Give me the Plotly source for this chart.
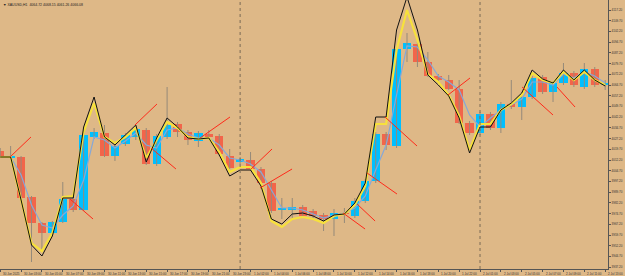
import plotly.graph_objects as go

# ---------------- data ----------------
opens = [4018.5, 4014.0, 4014.3, 3986.3, 3968.1, 3961.1, 3968.8, 3984.9, 3977.2, 4028.3,
         4031.1, 4015.0, 4023.4, 4028.3, 4033.2, 4009.4, 4028.3, 4037.4, 4031.8, 4025.5,
         4030.4, 4029.0, 4015.0, 4010.8, 4012.2, 4005.9, 3996.1, 3977.2, 3977.2, 3979.3,
         3976.5, 3973.7, 3970.9, 3975.1, 3973.0, 3983.5, 3997.5, 4030.4, 4022.0, 4089.9,
         4093.4, 4080.8, 4071.0, 4068.2, 4061.9, 4038.1, 4031.1, 4044.4, 4034.6, 4051.4,
         4049.3, 4056.3, 4070.3, 4059.8, 4066.1, 4073.1, 4063.3, 4075.9, 4064.7]
highs = [4020.6, 4022.0, 4015.0, 3987.0, 3968.8, 3969.5, 3996.8, 3986.3, 4031.1, 4034.6,
         4036.7, 4024.1, 4031.1, 4036.0, 4034.6, 4030.4, 4063.3, 4038.8, 4033.2, 4032.5,
         4033.2, 4030.4, 4019.9, 4014.3, 4017.8, 4007.3, 3997.5, 3985.6, 3985.6, 3980.7,
         3977.9, 3975.1, 3977.9, 3978.6, 3985.6, 3998.9, 4031.8, 4031.8, 4091.3, 4101.1,
         4094.8, 4087.8, 4072.4, 4071.7, 4068.2, 4039.5, 4045.8, 4045.8, 4052.8, 4068.2,
         4057.7, 4071.0, 4071.7, 4067.5, 4080.1, 4074.5, 4080.1, 4077.3, 4068.2]
lows = [4013.6, 4013.6, 3984.9, 3940.8, 3949.2, 3959.7, 3968.1, 3975.8, 3976.5, 4026.9,
        4014.3, 4011.5, 4022.0, 4026.2, 4008.7, 4008.0, 4026.9, 4028.3, 4022.7, 4021.3,
        4026.9, 4015.0, 4005.9, 4009.4, 4004.5, 3994.7, 3975.1, 3970.9, 3970.9, 3971.6,
        3971.6, 3962.5, 3959.0, 3968.1, 3971.6, 3982.1, 3996.1, 4019.2, 4020.6, 4080.8,
        4077.3, 4070.3, 4066.8, 4061.2, 4037.4, 4029.7, 4029.7, 4033.2, 4031.1, 4047.9,
        4040.2, 4054.9, 4058.4, 4052.8, 4064.7, 4063.3, 4061.9, 4063.3, 4061.2]
closes = [4014.3, 4014.6, 3985.6, 3968.1, 3961.1, 3968.8, 3984.9, 3977.2, 4029.7, 4031.8,
          4015.0, 4022.0, 4029.7, 4033.9, 4009.4, 4029.0, 4036.7, 4031.8, 4026.2, 4031.1,
          4028.3, 4016.4, 4006.6, 4012.9, 4005.9, 3996.1, 3976.5, 3978.6, 3979.3, 3973.0,
          3973.0, 3970.9, 3975.1, 3974.4, 3983.5, 3997.5, 4030.4, 4022.7, 4089.9, 4094.1,
          4080.8, 4071.0, 4068.2, 4061.9, 4038.1, 4031.1, 4044.4, 4034.6, 4051.4, 4049.3,
          4056.3, 4069.6, 4059.8, 4066.1, 4073.1, 4064.7, 4075.9, 4064.7, 4066.1]

black_line = [4014.3, 4014.3, 3984.2, 3952.7, 3945.0, 3959.0, 3985.6, 3985.6, 4035.3, 4056.3,
              4028.3, 4022.7, 4029.7, 4036.7, 4010.8, 4027.6, 4041.6, 4035.3, 4027.6, 4026.9,
              4027.6, 4015.7, 4001.0, 4005.2, 4005.2, 3994.0, 3970.9, 3967.4, 3974.4, 3975.1,
              3973.0, 3969.5, 3973.7, 3974.4, 3982.1, 3996.1, 4042.3, 4042.3, 4103.2, 4126.3,
              4103.2, 4071.7, 4064.7, 4057.0, 4041.6, 4017.1, 4035.3, 4035.3, 4047.2, 4052.1,
              4059.1, 4075.2, 4068.9, 4066.1, 4075.2, 4068.2, 4075.2, 4068.2, 4064.0]
yellow_line = [4014.3, 4014.3, 3984.2, 3954.1, 3948.5, 3961.1, 3986.3, 3987.0, 4031.8, 4052.1,
               4028.3, 4024.1, 4028.3, 4034.6, 4013.6, 4026.2, 4038.8, 4034.6, 4028.3, 4026.9,
               4027.6, 4017.8, 4003.8, 4007.3, 4007.3, 3996.1, 3969.5, 3965.3, 3970.9, 3972.3,
               3970.9, 3968.1, 3973.0, 3974.4, 3980.7, 3994.0, 4037.4, 4037.4, 4089.2, 4117.2,
               4096.2, 4072.4, 4066.8, 4057.7, 4043.0, 4019.2, 4037.4, 4037.4, 4047.2, 4051.4,
               4057.7, 4073.1, 4068.2, 4066.1, 4073.8, 4068.2, 4073.8, 4068.2, 4064.7]
blue_line = [4014.3, 4014.3, 4001.7, 3980.7, 3966.7, 3964.6, 3973.7, 3980.0, 3998.2, 4028.3,
             4026.2, 4020.6, 4025.5, 4031.1, 4022.7, 4020.6, 4033.2, 4034.6, 4030.4, 4027.6,
             4027.6, 4022.7, 4013.6, 4012.2, 4009.4, 4003.8, 3991.2, 3978.6, 3978.6, 3977.2,
             3974.4, 3971.6, 3973.7, 3975.1, 3978.6, 3987.0, 4005.2, 4022.7, 4057.7, 4092.0,
             4091.3, 4082.2, 4071.0, 4066.8, 4061.2, 4043.7, 4035.3, 4041.6, 4047.2, 4050.7,
             4054.9, 4066.8, 4066.8, 4064.7, 4072.4, 4069.6, 4073.8, 4071.0, 4066.1]

# red trend segments: start/end bar position and price
red_x0 = [0.94, 6.69, 12.92, 14.46, 19.16, 24.05, 24.91, 32.87, 34.21, 35.17, 36.89, 42.93, 50.03, 53.38]
red_y0 = [4014.3, 3984.9, 4036.7, 4020.6, 4027.6, 4005.9, 3992.6, 3975.1, 3981.4, 4003.1, 4042.3, 4057.7, 4063.3, 4063.3]
red_x1 = [2.95, 8.90, 15.03, 16.85, 22.03, 26.06, 27.98, 34.98, 35.94, 38.04, 39.96, 45.04, 53.00, 55.11]
red_y1 = [4028.3, 3970.9, 4051.4, 4005.9, 4042.3, 4019.9, 4005.9, 3963.9, 3969.5, 3988.4, 4022.0, 4069.6, 4043.7, 4049.3]

x_tick_labels = ["30 Jun 2025", "30 Jun 03:00", "30 Jun 05:00", "30 Jun 07:00", "30 Jun 09:00",
                 "30 Jun 11:00", "30 Jun 13:00", "30 Jun 15:00", "30 Jun 17:00", "30 Jun 19:00",
                 "30 Jun 21:00", "30 Jun 23:00", "1 Jul 02:00", "1 Jul 04:00", "1 Jul 06:00",
                 "1 Jul 08:00", "1 Jul 10:00", "1 Jul 12:00", "1 Jul 14:00", "1 Jul 16:00",
                 "1 Jul 18:00", "1 Jul 20:00", "1 Jul 22:00", "2 Jul 01:00", "2 Jul 03:00",
                 "2 Jul 05:00", "2 Jul 07:00", "2 Jul 09:00", "2 Jul 11:00", "2 Jul 13:00"]
day_start_bars = [23, 46]
y_tick_values = [4117.2, 4109.7, 4102.2, 4094.7, 4087.2, 4079.7, 4072.2, 4064.7, 4057.2, 4049.7,
                 4042.2, 4034.7, 4027.2, 4019.7, 4012.2, 4004.7, 3997.2, 3989.7, 3982.2, 3974.7,
                 3967.2, 3959.7, 3952.2, 3944.7, 3937.2]
header = "\u25BC XAUUSD,H1  4064.72 4068.15 4061.26 4066.08"

# ---------------- figure ----------------
n = len(opens)
idx = list(range(n))
BULL = "#00BFFF"
BEAR = "#F2654A"
BG = "#DEB887"

fig = go.Figure()

# wicks
wx, wy = [], []
for i in idx:
    wx += [i, i, None]
    wy += [lows[i], highs[i], None]
fig.add_trace(go.Scatter(x=wx, y=wy, mode="lines", line=dict(color="#958A7A", width=1),
                         hoverinfo="skip", showlegend=False))

# bodies
base = [min(o, c) for o, c in zip(opens, closes)]
height = [max(abs(c - o), 0.7) for o, c in zip(opens, closes)]
colors = [BULL if c >= o else BEAR for o, c in zip(opens, closes)]
fig.add_trace(go.Bar(x=idx, y=height, base=base, width=0.8, marker=dict(color=colors, line=dict(width=0)),
                     showlegend=False))

# indicator lines
fig.add_trace(go.Scatter(x=idx, y=blue_line, mode="lines", line=dict(color="#86A8D8", width=1.2),
                         showlegend=False))
fig.add_trace(go.Scatter(x=idx, y=yellow_line, mode="lines", line=dict(color="#F7E13C", width=2.2),
                         showlegend=False))
fig.add_trace(go.Scatter(x=idx, y=black_line, mode="lines", line=dict(color="#111111", width=1),
                         showlegend=False))

rx, ry = [], []
for a, b, c, d in zip(red_x0, red_y0, red_x1, red_y1):
    rx += [a, c, None]
    ry += [b, d, None]
fig.add_trace(go.Scatter(x=rx, y=ry, mode="lines", line=dict(color="#FF2A1A", width=1),
                         showlegend=False))

for d in day_start_bars:
    fig.add_vline(x=d, line=dict(color="#7A6A55", width=1, dash="dot"))

label_bars = list(range(0, n, 2))
for b, t in zip(label_bars, x_tick_labels):
    fig.add_annotation(x=b, y=0, xref="x", yref="paper", text=t, showarrow=False,
                       xanchor="left", yanchor="top", yshift=-1, xshift=1,
                       font=dict(size=3, color="#333333", family="Arial"))

fig.add_annotation(x=0.002, y=1, xref="paper", yref="paper", text=header, showarrow=False,
                   xanchor="left", yanchor="top", yshift=-1,
                   font=dict(size=3.5, color="#222222", family="Arial"))

fig.update_layout(
    width=625, height=276,
    margin=dict(l=0, r=17, t=0, b=7),
    paper_bgcolor=BG, plot_bgcolor=BG,
    barmode="overlay", bargap=0,
    showlegend=False,
    xaxis=dict(range=[-0.02, 58.27], showgrid=False, zeroline=False,
               showline=True, linecolor="#555555", linewidth=1,
               tickvals=label_bars, ticks="outside", ticklen=2, tickcolor="#555555",
               showticklabels=False, fixedrange=True),
    yaxis=dict(range=[3935.9, 4124.2], side="right", showgrid=False, zeroline=False,
               showline=True, linecolor="#555555", linewidth=1,
               tickvals=y_tick_values, ticktext=[f"{v:.2f}" for v in y_tick_values],
               ticks="outside", ticklen=2, tickcolor="#555555",
               tickfont=dict(size=3, color="#333333", family="Arial"), fixedrange=True),
)

fig.write_html("out.html")
